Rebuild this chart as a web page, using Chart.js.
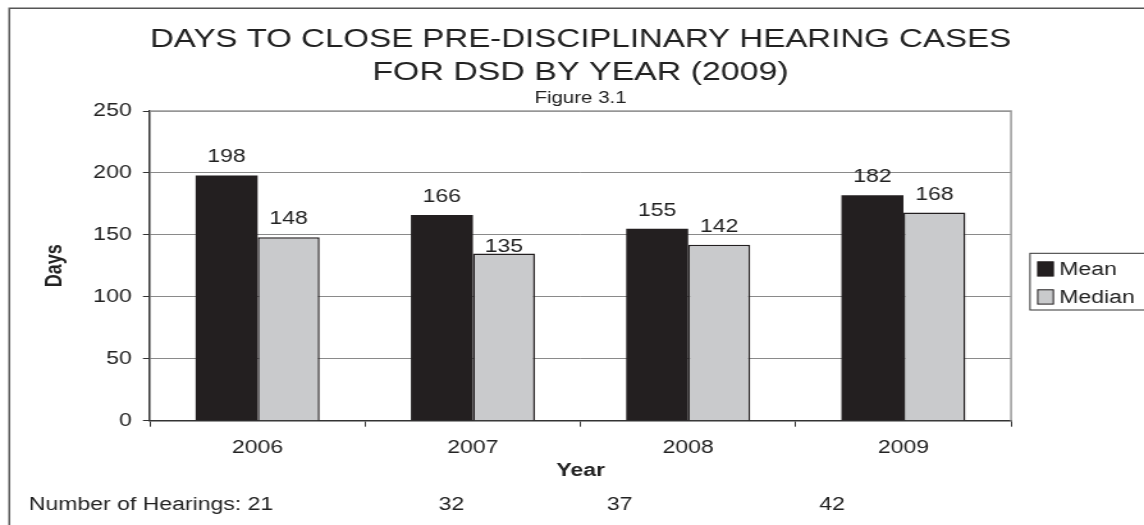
<!DOCTYPE html>
<html lang="en">
<head>
<meta charset="UTF-8">
<title>Days to Close Pre-Disciplinary Hearing Cases</title>
<script src="https://cdn.jsdelivr.net/npm/chart.js@4.4.2/dist/chart.umd.min.js"></script>
<style>
  body { margin: 0; background: #fff; }
</style>
</head>
<body>
<!-- inline size so chart.js keeps it: drawn 894 wide, shown 1144 wide -->
<canvas id="daysChart" width="894" height="525" style="display:block;width:1144px;height:525px"></canvas>
<script>
    const years = ['2006', '2007', '2008', '2009'];
    const meanDays = [198, 166, 155, 182];
    const medianDays = [148, 135, 142, 168];
    const hearings = [21, 32, 37, 42];
    const yTicks = [0, 50, 100, 150, 200, 250];

    // the source has wide lettering, so draw narrow and let css stretch it
    const SX = 1144 / 894;
    const FONT = "'Liberation Sans', Arial, sans-serif";
    const INK = '#222';

    Chart.defaults.font.family = FONT;
    Chart.defaults.color = INK;

    const extras = {
        id: 'extras',
        beforeDraw(chart) {
            // outer border of the figure (left + top only)
            const ctx = chart.ctx;
            ctx.save();
            ctx.strokeStyle = '#555';
            ctx.lineWidth = 1.5;
            ctx.beginPath();
            ctx.moveTo(9.3 / SX, chart.height + 2);
            ctx.lineTo(9.3 / SX, 8.3);
            ctx.lineTo(chart.width + 2, 8.3);
            ctx.stroke();
            ctx.restore();
        },
        afterDraw(chart) {
            const ctx = chart.ctx;
            const a = chart.chartArea;
            ctx.save();

            // plot box, top and right side
            ctx.strokeStyle = '#9a9a9a';
            ctx.lineWidth = 1.5;
            ctx.beginPath();
            ctx.moveTo(a.left, a.top);
            ctx.lineTo(a.right, a.top);
            ctx.lineTo(a.right, a.bottom);
            ctx.stroke();

            // value labels over the bars
            ctx.fillStyle = INK;
            ctx.font = '18px ' + FONT;
            ctx.textAlign = 'center';
            ctx.textBaseline = 'alphabetic';
            chart.data.datasets.forEach((ds, d) => {
                chart.getDatasetMeta(d).data.forEach((bar, i) => {
                    // excel tucked the 2007 median label down onto its bar
                    const lift = (d === 1 && i === 1) ? 1 : 13;
                    ctx.fillText(ds.data[i], bar.x, bar.y - lift);
                });
            });

            // legend box
            const lx = 1030 / SX, ly = 253.3;
            ctx.strokeStyle = '#333';
            ctx.lineWidth = 1;
            ctx.strokeRect(lx, ly, chart.width + 5 - lx, 56.7);
            ctx.textAlign = 'left';
            ctx.textBaseline = 'middle';
            chart.data.datasets.forEach((ds, d) => {
                const y = 269 + d * 28;
                ctx.fillStyle = ds.backgroundColor;
                ctx.fillRect(1037.7 / SX, y - 7.2, 12.2, 14.3);
                ctx.strokeStyle = '#231f20';
                ctx.strokeRect(1037.7 / SX, y - 7.2, 12.2, 14.3);
                ctx.fillStyle = INK;
                ctx.fillText(ds.label, 1059.3 / SX, y + 1);
            });

            // number of hearings row
            const hx = [28.7, 438.7, 607, 819.3];
            ctx.textBaseline = 'alphabetic';
            hearings.forEach((n, i) => {
                const txt = i === 0 ? 'Number of Hearings: ' + n : String(n);
                ctx.fillText(txt, hx[i] / SX, 510);
            });
            ctx.restore();
        }
    };

    new Chart(document.getElementById('daysChart'), {
        type: 'bar',
        data: {
            labels: years,
            datasets: [{
                label: 'Mean',
                data: meanDays,
                backgroundColor: '#231f20',
                borderWidth: 0   // outline is the same colour, skip it to avoid a seam
            }, {
                label: 'Median',
                data: medianDays,
                backgroundColor: '#c9cacc',
                borderColor: '#231f20',
                borderWidth: 1.5
            }]
        },
        options: {
            responsive: false,
            animation: false,
            devicePixelRatio: 1,
            categoryPercentage: 0.576,
            barPercentage: 1,
            layout: {padding: {left: 0, right: 103.9, top: 0, bottom: 43.2}},
            scales: {
                x: {
                    grid: {
                        drawOnChartArea: false,
                        tickLength: 6,
                        tickColor: '#333',
                        lineWidth: 1
                    },
                    border: {color: '#333', width: 1.5},
                    ticks: {font: {size: 18}, padding: 11, color: INK},
                    title: {
                        display: true,
                        text: 'Year',
                        font: {size: 18, weight: 'bold'},
                        padding: {top: 0, bottom: 0},
                        color: INK
                    },
                    afterFit: s => { s.height = 61.1; }
                },
                y: {
                    min: 0,
                    max: 250,
                    afterBuildTicks: s => { s.ticks = yTicks.map(v => ({value: v})); },
                    grid: {
                        color: '#8a8a8a',
                        tickColor: '#333',
                        tickLength: 5.5,
                        lineWidth: 1
                    },
                    border: {color: '#333', width: 1.5},
                    ticks: {font: {size: 18}, padding: 8.8, color: INK},
                    title: {
                        display: true,
                        text: 'Days',
                        font: {size: 18, weight: 'bold'},
                        padding: {top: 32.2, bottom: 0},
                        color: INK
                    },
                    afterFit: s => { s.width = 117.2; }
                }
            },
            plugins: {
                legend: {display: false},
                tooltip: {enabled: false},
                title: {
                    display: true,
                    fullSize: false,
                    text: ['DAYS TO CLOSE PRE-DISCIPLINARY HEARING CASES', 'FOR DSD BY YEAR (2009)'],
                    font: {size: 26.5, weight: 'normal', lineHeight: 33 / 26.5},
                    padding: {top: 23.5, bottom: 0},
                    color: INK
                },
                subtitle: {
                    display: true,
                    fullSize: false,
                    text: 'Figure 3.1',
                    font: {size: 16, lineHeight: 17 / 16},
                    padding: {top: 0.9, bottom: 3.6},
                    color: INK
                }
            }
        },
        plugins: [extras]
    });
</script>
</body>
</html>
